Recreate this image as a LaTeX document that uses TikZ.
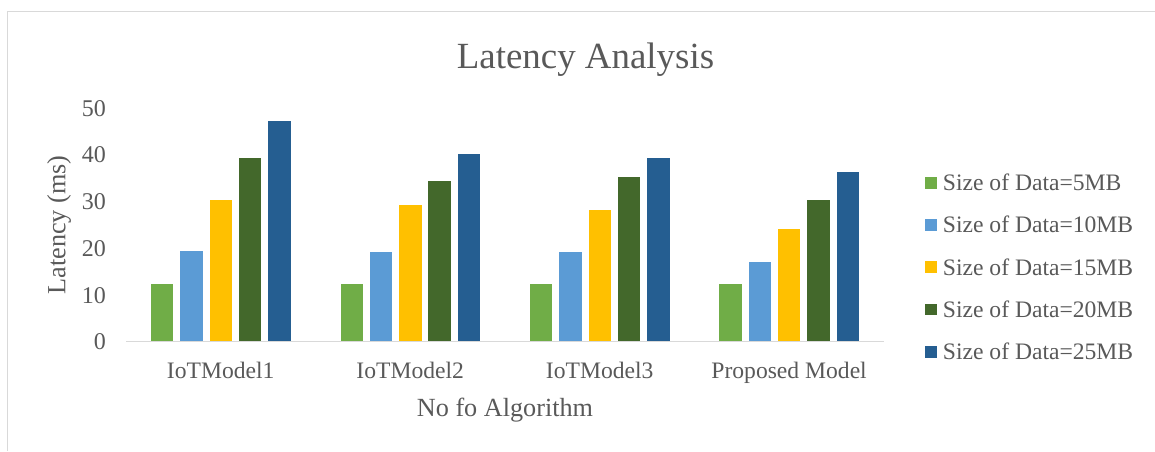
\documentclass[tikz,border=0pt]{standalone}
\usepackage{fontspec}
\setmainfont{Liberation Serif}
\definecolor{cA}{HTML}{70AD47}
\definecolor{cB}{HTML}{5B9BD5}
\definecolor{cC}{HTML}{FFC000}
\definecolor{cD}{HTML}{43682B}
\definecolor{cE}{HTML}{255E91}
\definecolor{txt}{HTML}{595959}
\definecolor{grid}{HTML}{D9D9D9}
\tikzset{
  barbox/.style={draw=white, line width=0.8pt},
  ticklbl/.style={anchor=base east, inner sep=0pt, text=txt, font=\fontsize{24}{28}\selectfont},
  catlbl/.style={anchor=base, inner sep=0pt, text=txt, font=\fontsize{23.6}{28}\selectfont},
  leglbl/.style={anchor=base west, inner sep=0pt, text=txt, font=\fontsize{23.6}{28}\selectfont},
  axtitle/.style={inner sep=0pt, text=txt, font=\fontsize{26.2}{30}\selectfont},
  charttitle/.style={anchor=base, inner sep=0pt, text=txt, font=\fontsize{36.9}{42}\selectfont},
  frameline/.style={draw=grid, line width=1.5pt},
}
\begin{document}
\begin{tikzpicture}[x=1pt, y=-1pt]
\useasboundingbox (0,0) rectangle (1155,451);
% frame
\draw[frameline] (7.5,451) -- (7.5,11.5) -- (1155,11.5);
% title
\node[charttitle] (title) at (585.5,68) {Latency Analysis};
% y ticks
\foreach \v in {0,10,...,50} {
  \node[ticklbl] (t\v) at (106,{341.7-4.67*\v+8}) {\v};
}
% bars
\def\pitch{29.3}
\def\bw{23.4}
\foreach \g/\cx/\a/\b/\c/\d/\e in {1/220.7/12.4/19.5/30.5/39.5/47.3,
                                   2/410.2/12.4/19.4/29.5/34.6/40.4,
                                   3/599.7/12.5/19.4/28.4/35.4/39.5,
                                   4/789.1/12.5/17.3/24.3/30.5/36.5} {
  \foreach \k/\val/\col in {0/\a/cA,1/\b/cB,2/\c/cC,3/\d/cD,4/\e/cE} {
    \path[barbox, fill=\col] ({\cx+(\k-2)*\pitch-\bw/2},341.7) rectangle ({\cx+(\k-2)*\pitch+\bw/2},{341.7-4.67*\val});
  }
}
% axis line
\coordinate (ax0) at (126,341.7);
\coordinate (ax1) at (884,341.7);
\draw[draw=grid, line width=1.5pt] (ax0) -- (ax1);
% category labels
\node[catlbl] (c1) at (220.7,378) {IoTModel1};
\node[catlbl] (c2) at (410.2,378) {IoTModel2};
\node[catlbl] (c3) at (599.7,378) {IoTModel3};
\node[catlbl] (c4) at (789.1,378) {Proposed Model};
% axis titles
\node[axtitle, anchor=base] (xt) at (505,416) {No fo Algorithm};
\node[axtitle, rotate=90] (yt) at (59,225) {Latency (ms)};
% legend
\foreach \i/\col/\lab in {0/cA/5,1/cB/10,2/cC/15,3/cD/20,4/cE/25} {
  \fill[\col] (925,{182.7+42.25*\i-5.8}) rectangle (936.7,{182.7+42.25*\i+5.8});
  \node[leglbl] (l\i) at (942.7,{190.6+42.25*\i}) {Size of Data=\lab MB};
}
\end{tikzpicture}
\end{document}
